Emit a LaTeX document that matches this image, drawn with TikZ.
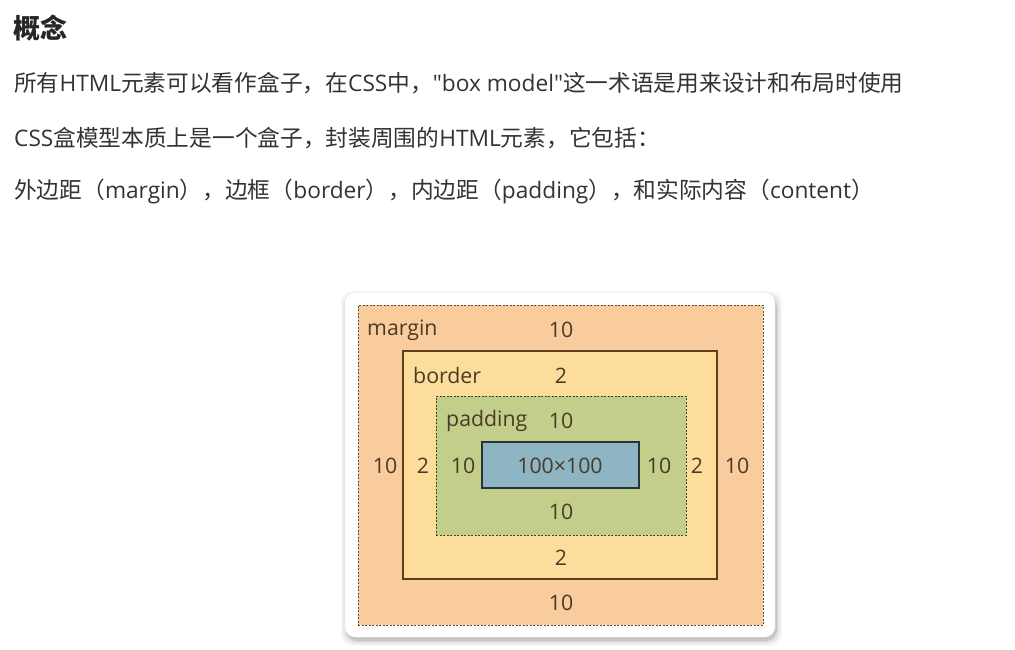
\documentclass[tikz,border=0pt]{standalone}
\usepackage{fontspec}
\setmainfont{Open Sans}[Ligatures=TeXOff]
\newfontfamily\cjk{Noto Sans CJK SC}
\definecolor{txt}{HTML}{333333}
\definecolor{dtxt}{HTML}{4A3A26}
\definecolor{mfill}{HTML}{F9CC9D}
\definecolor{bfill}{HTML}{FDDD9B}
\definecolor{pfill}{HTML}{C3CE8B}
\definecolor{cfill}{HTML}{8DB5C4}
\definecolor{mline}{HTML}{5C4E3E}
\definecolor{bline}{HTML}{5E3F1A}
\definecolor{pline}{HTML}{3A4426}
\definecolor{cline}{HTML}{2A3434}
\begin{document}
\begin{tikzpicture}[x=1pt,y=-1pt,
  body/.style={anchor=west,inner sep=0pt,text=txt,font=\fontsize{22.7}{26}\selectfont},
  lbl/.style={inner sep=0pt,text=dtxt,font=\fontsize{21.3}{25}\selectfont},
  dashline/.style={dash pattern=on 2pt off 1.5pt,line width=0.9pt}]
\useasboundingbox (0,0) rectangle (1015,649);
\fill[white] (0,0) rectangle (1015,649);
% title and text
\node[anchor=west,inner sep=0pt,text=black!85,font=\cjk\bfseries\fontsize{27}{32}\selectfont] (title) at (13,28) {概念};
\node[body] (l1) at (14,83) {{\cjk 所有}HTML{\cjk 元素可以看作盒子，在}CSS{\cjk 中，}"box model"{\cjk 这一术语是用来设计和布局时使用}};
\node[body] (l2) at (14,138) {CSS{\cjk 盒模型本质上是一个盒子，封装周围的}HTML{\cjk 元素，它包括：}};
\node[body] (l3) at (14,192) {{\cjk 外边距（}margin{\cjk ），边框（}border{\cjk ），内边距（}padding{\cjk ），和实际内容（}content{\cjk ）}};
% card with shadow
\foreach \i/\o in {6/0.04,4/0.05,2/0.07,1/0.08}{
  \fill[black,opacity=\o,rounded corners=12pt] (345-\i+2,293-\i+4) rectangle (775+\i+1,637+\i+3);
}
\fill[white,rounded corners=10pt] (345,293) rectangle (775,637);
% boxes
\node[draw=mline,dashline,fill=mfill,minimum width=405pt,minimum height=320pt,inner sep=0pt] (margin) at (560.5,465) {};
\node[draw=bline,line width=1.1pt,fill=bfill,minimum width=314pt,minimum height=228pt,inner sep=0pt] (border) at (560,465) {};
\node[draw=pline,dashline,fill=pfill,minimum width=250pt,minimum height=139pt,inner sep=0pt] (padding) at (561,465.5) {};
\node[draw=cline,line width=1.1pt,fill=cfill,minimum width=157pt,minimum height=46pt,inner sep=0pt] (content) at (560.5,465) {};
% labels
\node[lbl,anchor=west] (mlab) at (367,330) {margin};
\node[lbl] (mt) at (561,330) {10};
\node[lbl,anchor=west] (blab) at (413,376) {border};
\node[lbl] (bt) at (561,376) {2};
\node[lbl,anchor=west] (plab) at (446,421) {padding};
\node[lbl] (pt) at (561,421) {10};
\node[lbl] (ml) at (385,466) {10};
\node[lbl] (bl) at (423,466) {2};
\node[lbl] (pl) at (463,466) {10};
\node[lbl] (ct) at (560,466) {100×100};
\node[lbl] (pr) at (659,466) {10};
\node[lbl] (br) at (697,466) {2};
\node[lbl] (mr) at (737,466) {10};
\node[lbl] (pb) at (561,512) {10};
\node[lbl] (bb) at (561,558) {2};
\node[lbl] (mb) at (561,603) {10};
\end{tikzpicture}
\end{document}
